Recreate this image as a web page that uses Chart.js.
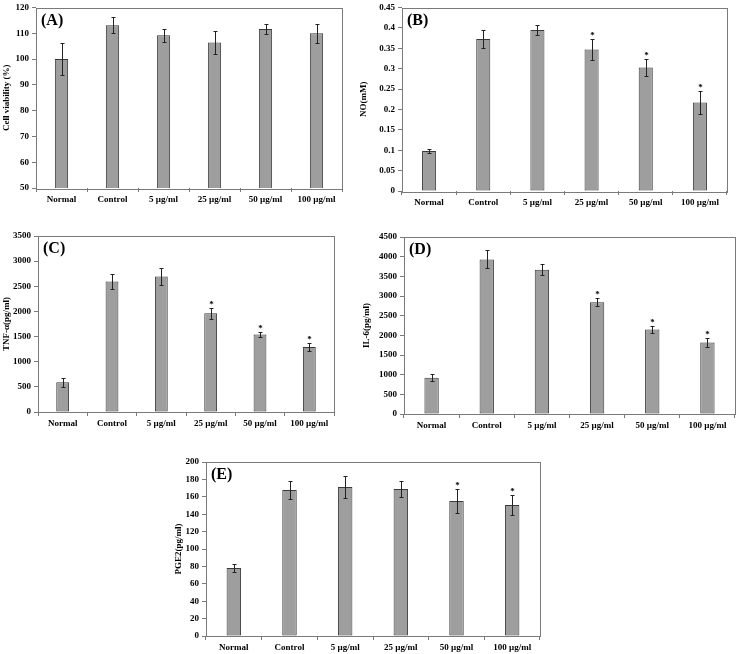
<!DOCTYPE html>
<html>
<head>
<meta charset="utf-8">
<script src="https://cdn.jsdelivr.net/npm/chart.js@4.4.0/dist/chart.umd.min.js"></script>
<style>
  body { margin: 0; background: #fff; }
  #wrap { position: relative; width: 738px; height: 654px; overflow: hidden; }
  #wrap canvas { position: absolute; }
</style>
</head>
<body>
<div id="wrap">
  <canvas id="chartA"></canvas>
  <canvas id="chartB"></canvas>
  <canvas id="chartC"></canvas>
  <canvas id="chartD"></canvas>
  <canvas id="chartE"></canvas>
</div>
<script>
// data
const categories = ['Normal', 'Control', '5 µg/ml', '25 µg/ml', '50 µg/ml', '100 µg/ml'];

const viability = [100, 113.1, 109.2, 106.4, 111.7, 110];
const viabilityErr = [6.3, 3.1, 2.6, 4.3, 1.8, 3.6];
const viabilityTicks = [50, 60, 70, 80, 90, 100, 110, 120];
const viabilityStars = [0, 0, 0, 0, 0, 0];

const no = [0.098, 0.373, 0.395, 0.347, 0.303, 0.217];
const noErr = [0.005, 0.022, 0.013, 0.026, 0.02, 0.028];
const noTicks = [0, 0.05, 0.1, 0.15, 0.2, 0.25, 0.3, 0.35, 0.4, 0.45];
const noStars = [0, 0, 0, 1, 1, 1];

const tnf = [590, 2596, 2695, 1962, 1539, 1295];
const tnfErr = [95, 150, 160, 105, 50, 75];
const tnfTicks = [0, 500, 1000, 1500, 2000, 2500, 3000, 3500];
const tnfStars = [0, 0, 0, 1, 1, 1];

const il6 = [920, 3930, 3670, 2840, 2150, 1820];
const il6Err = [85, 230, 145, 97, 85, 120];
const il6Ticks = [0, 500, 1000, 1500, 2000, 2500, 3000, 3500, 4000, 4500];
const il6Stars = [0, 0, 0, 1, 1, 1];

const pge2 = [78.3, 167.8, 171.2, 169, 155.1, 150.5];
const pge2Err = [4.4, 10.3, 13, 9.6, 14, 11.7];
const pge2Ticks = [0, 20, 40, 60, 80, 100, 120, 140, 160, 180, 200];
const pge2Stars = [0, 0, 0, 0, 1, 1];

const serif = '"Liberation Serif", "Times New Roman", serif';
const tickFont = { family: serif, size: 9, weight: 'bold', lineHeight: 1 };

// frame, error bars, asterisks and panel letter
const extrasPlugin = {
  id: 'extras',
  afterDatasetsDraw(chart, args, opts) {
    const ctx = chart.ctx;
    const area = chart.chartArea;
    const xs = chart.scales.x, ys = chart.scales.y;
    const vals = chart.data.datasets[0].data;
    ctx.save();
    ctx.strokeStyle = '#7a7a7a';
    ctx.lineWidth = 1;
    ctx.strokeRect(Math.round(area.left) + 0.5, Math.round(area.top) + 0.5,
      Math.round(area.right - area.left), Math.round(area.bottom - area.top));

    ctx.strokeStyle = '#222';
    ctx.fillStyle = '#000';
    ctx.font = 'bold 9px ' + serif;
    ctx.textAlign = 'center';
    ctx.textBaseline = 'alphabetic';
    vals.forEach((v, i) => {
      const px = Math.round(xs.getPixelForValue(i)) + 0.5;
      const top = Math.round(ys.getPixelForValue(v + opts.err[i])) + 0.5;
      const bot = Math.round(ys.getPixelForValue(v - opts.err[i])) + 0.5;
      ctx.beginPath();
      ctx.moveTo(px, top); ctx.lineTo(px, bot);
      ctx.moveTo(px - 2, top); ctx.lineTo(px + 2, top);
      ctx.moveTo(px - 2, bot); ctx.lineTo(px + 2, bot);
      ctx.stroke();
      if (opts.stars[i]) ctx.fillText('*', px, top - 1.5);
    });

    ctx.font = 'bold 16px ' + serif;
    ctx.textAlign = 'left';
    ctx.textBaseline = 'middle';
    ctx.fillText('(' + opts.letter + ')', area.left + 5, area.top + 13);
    ctx.restore();
  }
};

// position of each panel in the page and of its plot area
const panels = [
  { id: 'chartA', x: 0, y: 0, w: 357, h: 215, l: 36, r: 342, t: 6, b: 188,
    letter: 'A', title: 'Cell viability (%)', values: viability, err: viabilityErr, ticks: viabilityTicks, stars: viabilityStars },
  { id: 'chartB', x: 357, y: 0, w: 381, h: 215, l: 402, r: 727, t: 5, b: 191,
    letter: 'B', title: 'NO(mM)', values: no, err: noErr, ticks: noTicks, stars: noStars },
  { id: 'chartC', x: 0, y: 220, w: 357, h: 220, l: 38, r: 334, t: 236, b: 412,
    letter: 'C', title: 'TNF-α(pg/ml)', values: tnf, err: tnfErr, ticks: tnfTicks, stars: tnfStars },
  { id: 'chartD', x: 360, y: 220, w: 378, h: 220, l: 404, r: 735, t: 237, b: 414,
    letter: 'D', title: 'IL-6(pg/ml)', values: il6, err: il6Err, ticks: il6Ticks, stars: il6Stars },
  { id: 'chartE', x: 172, y: 440, w: 380, h: 214, l: 206, r: 540, t: 462, b: 636,
    letter: 'E', title: 'PGE2(pg/ml)', values: pge2, err: pge2Err, ticks: pge2Ticks, stars: pge2Stars }
];

function makePanel(p) {
  const canvas = document.getElementById(p.id);
  canvas.width = p.w;
  canvas.height = p.h;
  canvas.style.left = p.x + 'px';
  canvas.style.top = p.y + 'px';
  canvas.style.width = p.w + 'px';
  canvas.style.height = p.h + 'px';

  return new Chart(canvas.getContext('2d'), {
    type: 'bar',
    data: {
      labels: categories,
      datasets: [{
        data: p.values,
        backgroundColor: '#9e9e9e',
        borderColor: '#3a3a3a',
        borderWidth: 1,
        borderSkipped: false,
        barPercentage: 0.26,
        categoryPercentage: 1
      }]
    },
    options: {
      responsive: false,
      animation: false,
      devicePixelRatio: 1,
      layout: { padding: { top: p.t - p.y, right: p.x + p.w - p.r, left: 0, bottom: 0 } },
      plugins: {
        legend: { display: false },
        tooltip: { enabled: false },
        extras: { err: p.err, stars: p.stars, letter: p.letter }
      },
      scales: {
        x: {
          offset: true,
          grid: { drawOnChartArea: false, tickLength: 4, color: '#7a7a7a', offset: true },
          border: { display: false },
          ticks: { font: tickFont, color: '#000', padding: 3, maxRotation: 0, autoSkip: false },
          afterFit: s => { s.height = p.y + p.h - p.b; }
        },
        y: {
          min: p.ticks[0],
          max: p.ticks[p.ticks.length - 1],
          afterBuildTicks: s => { s.ticks = p.ticks.map(v => ({ value: v })); },
          grid: { drawOnChartArea: false, tickLength: 4, color: '#7a7a7a' },
          border: { display: false },
          ticks: { font: tickFont, color: '#000', padding: 3, callback: v => String(v) },
          title: { display: true, text: p.title, color: '#000', padding: 1,
                   font: { family: serif, size: 9, weight: 'bold' } },
          afterFit: s => { s.width = p.l - p.x; }
        }
      }
    },
    plugins: [extrasPlugin]
  });
}

panels.forEach(makePanel);
</script>
</body>
</html>
